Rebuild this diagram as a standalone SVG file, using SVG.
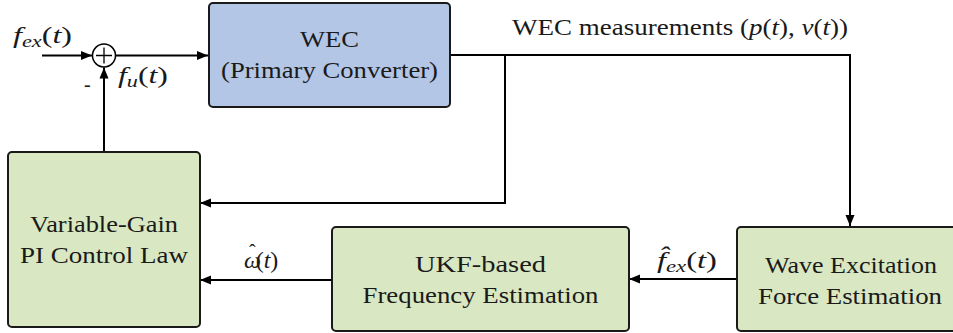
<svg xmlns="http://www.w3.org/2000/svg" width="953" height="333" viewBox="0 0 953 333">
<style>
.box{stroke:#1a1a1a;stroke-width:2;}
.blue{fill:#b3c6e6;}
.green{fill:#d9e8c2;}
text{font-family:'Liberation Serif','Times New Roman',Tinos,'Noto Serif','DejaVu Serif',FreeSerif,serif;font-size:23px;fill:#1a1a1a;}
.t{text-anchor:middle;}
.i{font-style:italic;}
.s{font-size:16px;font-style:italic;}
.c{fill:none;stroke:#000;stroke-width:2;}
</style>
<defs>
<marker id="ah" markerWidth="12" markerHeight="10" refX="11" refY="5" orient="auto" markerUnits="userSpaceOnUse">
<path d="M0,0.5 L11,5 L0,9.5 Z" fill="#000"/>
</marker>
</defs>
<g id="connectors">
<path class="c" d="M42,55.5 H92" marker-end="url(#ah)"/>
<path class="c" d="M116,55.5 H208" marker-end="url(#ah)"/>
<path class="c" d="M104,152 V67.5" marker-end="url(#ah)"/>
<path class="c" d="M450,55 H850 V226" marker-end="url(#ah)"/>
<path class="c" d="M505,55 V203 H200" marker-end="url(#ah)"/>
<path class="c" d="M332,280 H200" marker-end="url(#ah)"/>
<path class="c" d="M737,279 H629" marker-end="url(#ah)"/>
</g>
<g id="sum">
<circle cx="104" cy="55.5" r="11.5" fill="#fff" stroke="#000" stroke-width="1.5"/>
<path d="M96,55.5 H112 M104,47.5 V63.5" stroke="#000" stroke-width="1.3"/>
</g>
<g id="wec">
<rect class="box blue" x="209" y="3" width="241" height="104" rx="4"/>
<text class="t" x="329.5" y="47" textLength="59" lengthAdjust="spacingAndGlyphs">WEC</text>
<text class="t" x="329.5" y="78" textLength="217" lengthAdjust="spacingAndGlyphs">(Primary Converter)</text>
</g>
<g id="vg">
<rect class="box green" x="8" y="152" width="192" height="175" rx="4"/>
<text class="t" x="104" y="232" textLength="148" lengthAdjust="spacingAndGlyphs">Variable-Gain</text>
<text class="t" x="104" y="263" textLength="168" lengthAdjust="spacingAndGlyphs">PI Control Law</text>
</g>
<g id="ukf">
<rect class="box green" x="332" y="227" width="297" height="104" rx="4"/>
<text class="t" x="480.5" y="272" textLength="131" lengthAdjust="spacingAndGlyphs">UKF-based</text>
<text class="t" x="480.5" y="303" textLength="236" lengthAdjust="spacingAndGlyphs">Frequency Estimation</text>
</g>
<g id="wave">
<rect class="box green" x="737" y="227" width="228" height="104" rx="4"/>
<text class="t" x="851" y="273" textLength="172" lengthAdjust="spacingAndGlyphs">Wave Excitation</text>
<text class="t" x="850" y="304" textLength="184" lengthAdjust="spacingAndGlyphs">Force Estimation</text>
</g>
<g id="labels">
<text x="13" y="43" textLength="59" lengthAdjust="spacingAndGlyphs"><tspan class="i">f</tspan><tspan class="s" dy="4">ex</tspan><tspan dy="-4">(</tspan><tspan class="i">t</tspan>)</text>
<text x="84" y="91" style="font-size:20px">-</text>
<text x="118" y="83" textLength="50" lengthAdjust="spacingAndGlyphs"><tspan class="i">f</tspan><tspan class="s" dy="4">u</tspan><tspan dy="-4">(</tspan><tspan class="i">t</tspan>)</text>
<text x="512" y="35" textLength="336" lengthAdjust="spacingAndGlyphs">WEC measurements (<tspan class="i">p</tspan>(<tspan class="i">t</tspan>), <tspan class="i">v</tspan>(<tspan class="i">t</tspan>))</text>
<text x="244" y="268" style="font-size:24px"><tspan class="i">ω</tspan><tspan dx="-12" dy="-9" style="font-size:20px">ˆ</tspan><tspan dx="0" dy="9">(</tspan><tspan class="i">t</tspan>)</text>
<text x="657" y="268" textLength="60" lengthAdjust="spacingAndGlyphs"><tspan class="i">f̂</tspan><tspan class="s" dy="4">ex</tspan><tspan dy="-4">(</tspan><tspan class="i">t</tspan>)</text>
</g>
</svg>
